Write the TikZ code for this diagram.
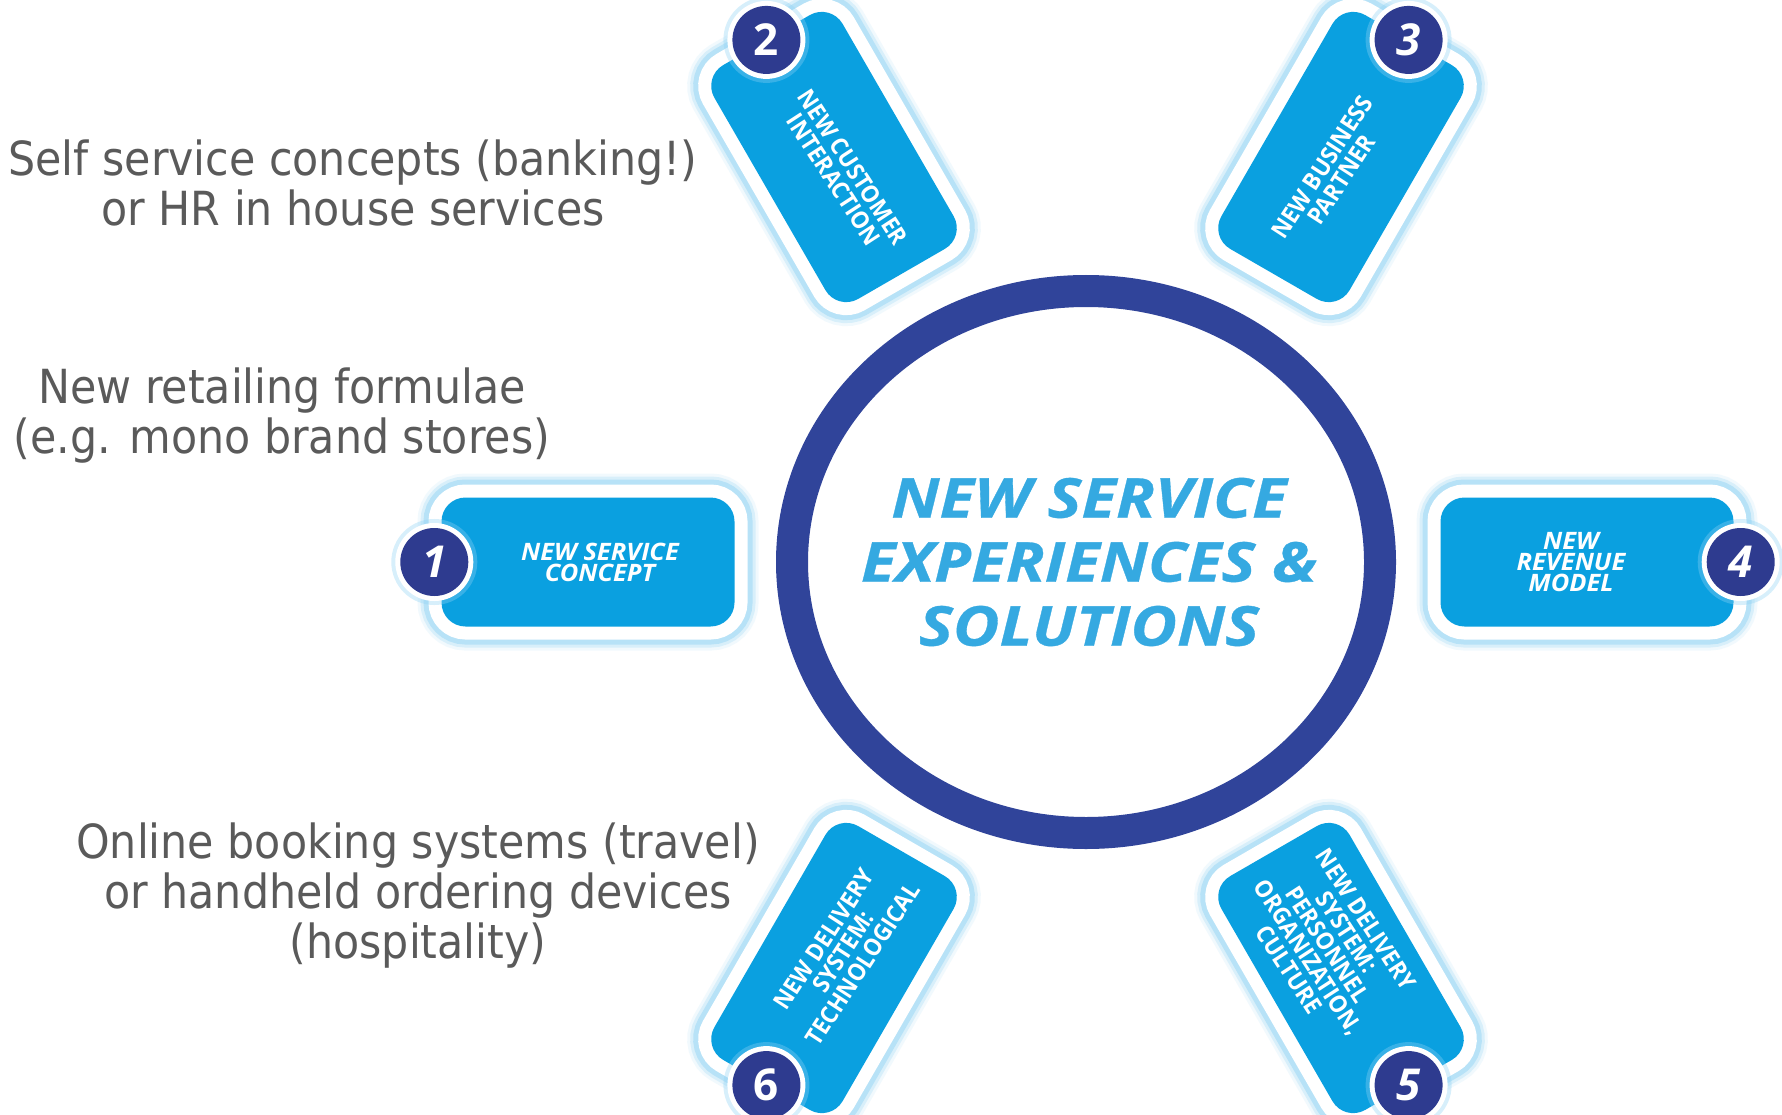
\documentclass[tikz,border=0pt]{standalone}
\usepackage{fontspec}
\setmainfont{DejaVu Sans}
\newfontfamily\notefont[FakeStretch=0.91]{DejaVu Sans}
\newfontfamily\tagfont{Open Sans}
\newfontfamily\tagwide[FakeStretch=1.06]{Open Sans}
\newfontfamily\tagnarrow[FakeStretch=0.93]{Open Sans}
\newfontfamily\corefont[FakeStretch=1.16,FakeBold=0.6]{Open Sans}
\usetikzlibrary{shapes.geometric,calc}
\definecolor{tagblue}{HTML}{0AA0E0}
\definecolor{ringblue}{HTML}{30449A}
\definecolor{badgeblue}{HTML}{2E3B8F}
\definecolor{coreblue}{HTML}{35A9E1}
\definecolor{glowc}{HTML}{8FD3F5}
\definecolor{notegray}{HTML}{5A5A5A}
\begin{document}
\begin{tikzpicture}[x=1pt,y=-1pt,
  tagbox/.style={rectangle, rounded corners=24pt, fill=tagblue, inner sep=0pt,
    preaction={draw=glowc, line width=48pt, opacity=0.12},
    preaction={draw=glowc, line width=42pt, opacity=0.25},
    preaction={draw=glowc, line width=36pt, opacity=0.45},
    preaction={draw=white, line width=26pt}},
  straightbox/.style={tagbox, minimum width=293pt, minimum height=129pt},
  slantbox/.style={tagbox, minimum width=270pt, minimum height=148pt},
  badge/.style={circle, fill=badgeblue, minimum size=68pt, inner sep=0pt, text=white,
    font=\tagfont\bfseries\itshape\fontsize{44}{44}\selectfont,
    preaction={draw=glowc, line width=18pt, opacity=0.35},
    preaction={draw=white, line width=10pt}},
  badgeup/.style={badge, font=\tagfont\bfseries\fontsize{44}{44}\selectfont},
  tagit/.style={text=white, align=center, inner sep=0pt,
    font=\tagwide\bfseries\itshape\fontsize{24}{21}\selectfont},
  tagup/.style={text=white, align=center, inner sep=0pt,
    font=\tagnarrow\bfseries\fontsize{24}{23}\selectfont},
  note/.style={text=notegray, anchor=base, inner sep=0pt,
    font=\notefont\fontsize{47}{50}\selectfont},
  coretxt/.style={text=coreblue, align=center, inner sep=0pt,
    font=\corefont\bfseries\itshape\fontsize{55}{64}\selectfont},
  ring/.style={ellipse, draw=ringblue, line width=32pt, inner sep=0pt,
    minimum width=588pt, minimum height=542pt}
]
\useasboundingbox[fill=white] (0,0) rectangle (1782,1115);

% central ring
\node[ring] (core) at (1086,562) {};
\node[coretxt] (coretext) at (1089,562) {NEW SERVICE\\EXPERIENCES \&\\SOLUTIONS};

% boxes
\node[straightbox] (b1) at (588,562) {};
\node[straightbox] (b4) at (1587,562) {};
\node[slantbox, rotate=-60] (b2) at (834,157) {};
\node[slantbox, rotate=60] (b3) at (1341,157) {};
\node[slantbox, rotate=-60] (b5) at (1341,968) {};
\node[slantbox, rotate=60] (b6) at (834,968) {};

% badges
\node[badge] (n1) at ([xshift=-7pt]b1.west) {1};
\node[badgeup] (n2) at (b2.west) {2};
\node[badge] (n3) at (b3.east) {3};
\node[badge] (n4) at ([xshift=7pt]b4.east) {4};
\node[badge] (n5) at (b5.east) {5};
\node[badgeup] (n6) at (b6.west) {6};

% box texts
\node[tagit] (t1) at (600,562) {NEW SERVICE\\CONCEPT};
\node[tagit] (t4) at (1571,562) {NEW\\REVENUE\\MODEL};
\node[tagup, rotate=-57] (t2) at ($(b2.center)!0.14!(b2.east)$) {NEW CUSTOMER\\INTERACTION};
\node[tagup, rotate=57] (t3) at ($(b3.center)!0.14!(b3.west)$) {NEW BUSINESS\\PARTNER};
\node[tagup, rotate=57] (t6) at ($(b6.center)!0.14!(b6.east)$) {NEW DELIVERY\\SYSTEM:\\TECHNOLOGICAL};
\node[tagup, rotate=-57] (t5) at ($(b5.center)!0.2!(b5.west)$) {NEW DELIVERY\\SYSTEM:\\PERSONNEL\\ORGANIZATION,\\CULTURE};

% notes
\node[note] (a1) at (353,176) {Self service concepts (banking!)};
\node[note] (a2) at (353,226) {or HR in house services};
\node[note] (c1) at (282,403) {New retailing formulae};
\node[note] (c2) at (282,453) {(e.g. mono brand stores)};
\node[note] (d1) at (418,858) {Online booking systems (travel)};
\node[note] (d2) at (418,908) {or handheld ordering devices};
\node[note] (d3) at (418,958) {(hospitality)};
\end{tikzpicture}
\end{document}
